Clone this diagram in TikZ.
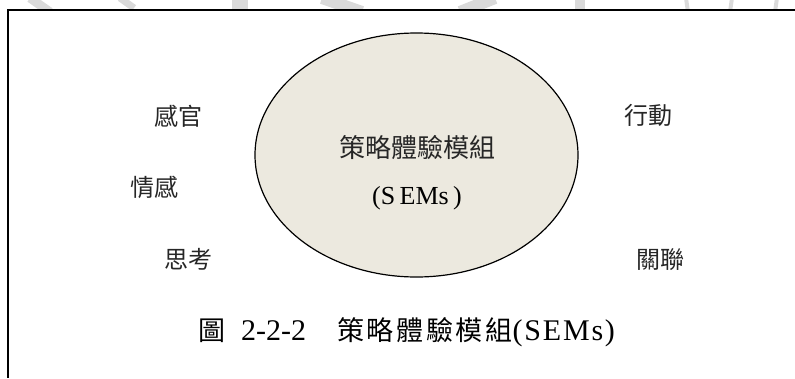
\documentclass[tikz,border=0pt]{standalone}
\usepackage{fontspec}
\setmainfont{Liberation Serif}
\newfontfamily\cjk{Noto Sans CJK TC}
\newfontfamily\cjkcap[LetterSpace=10]{Noto Sans CJK TC}
\newfontfamily\capserif[LetterSpace=6]{Liberation Serif}
\definecolor{ellfill}{RGB}{236,233,223}
\definecolor{wm}{RGB}{218,218,218}
\tikzset{
  lbl/.style={inner sep=0pt, font=\fontsize{24}{28}\selectfont\cjk, text=black!85},
  core/.style={ellipse, draw=black, line width=1.2pt, fill=ellfill, minimum width=323pt, minimum height=244pt, inner sep=0pt},
  wmark/.style={wm, line cap=butt}
}
\usetikzlibrary{shapes.geometric}
\begin{document}
\begin{tikzpicture}[x=1pt,y=-1pt]
\useasboundingbox (0,0) rectangle (795,378);
% faint watermark fragments at top
\begin{scope}
\clip (0,0) rectangle (795,9);
\draw[wmark, line width=9pt] (30,-2) -- (50,12);
\draw[wmark, line width=7pt] (120,-2) -- (134,8);
\draw[wmark, line width=16pt] (240,-2) -- (240,12);
\draw[wmark, line width=12pt] (322,-2) -- (362,12);
\draw[wmark, line width=12pt] (495,-2) -- (460,12);
\draw[wmark, line width=10pt] (580,-2) -- (580,12);
\draw[wmark, line width=4pt] (686,-2) -- (688,12);
\draw[wmark, line width=4pt] (732,-2) -- (730,12);
\draw[wmark, line width=4pt] (777,-2) -- (775,12);
\end{scope}
% frame
\coordinate (ftr) at (795,10);
\coordinate (ftl) at (8,10);
\coordinate (fbl) at (8,378);
\draw[line width=1.5pt] (ftr) -- (ftl) -- (fbl);
% central ellipse
\node[core] (sems) at (416.5,155) {};
\node[inner sep=0pt, font=\fontsize{26}{30}\selectfont\cjk, text=black!85] (t1) at (417,148) {策略體驗模組};
\node[inner sep=0pt, font=\fontsize{26}{30}\selectfont] (t2) at (417,198) {(S\,EMs\,)};
% surrounding labels
\node[lbl] (gg) at (178,116) {感官};
\node[lbl] (qg) at (154,187) {情感};
\node[lbl] (sk) at (188,259) {思考};
\node[lbl] (xd) at (648,115) {行動};
\node[lbl] (gl) at (660,260) {關聯};
% caption
\node[inner sep=0pt, anchor=west, font=\fontsize{30}{34}\selectfont] (cap) at (198,332)
  {{\fontsize{27}{32}\selectfont\cjkcap 圖}\hspace{16pt}2-2-2\hspace{31pt}{\fontsize{27}{32}\selectfont\cjkcap 策略體驗模組}{\capserif (SEMs)}};
\end{tikzpicture}
\end{document}
